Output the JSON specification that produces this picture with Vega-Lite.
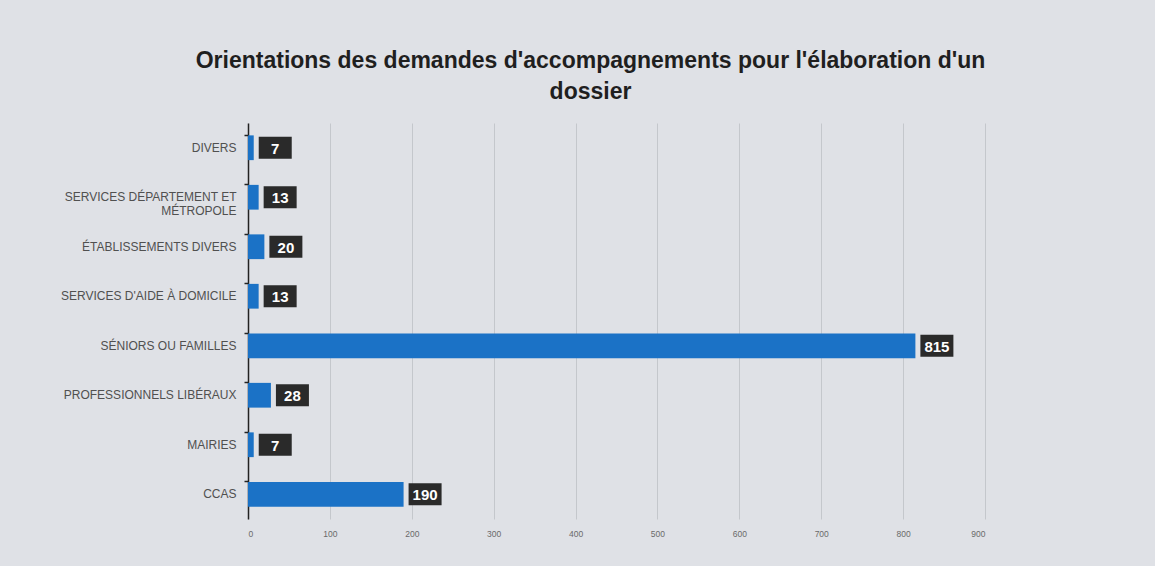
{
  "$schema": "https://vega.github.io/schema/vega-lite/v6.json",
  "width": 737,
  "height": 396,
  "autosize": {"type": "none"},
  "padding": {"left": 248, "top": 123, "right": 170, "bottom": 47},
  "background": "#dfe1e6",
  "title": {
    "text": ["Orientations des demandes d'accompagnements pour l'élaboration d'un", "dossier"],
    "font": "Liberation Sans",
    "fontSize": 23,
    "fontWeight": "bold",
    "color": "#1f1f1f",
    "lineHeight": 31,
    "anchor": "middle",
    "dx": -26,
    "offset": 19
  },
  "data": {
    "values": [
      {"categorie": "DIVERS", "valeur": 7},
      {"categorie": "SERVICES DÉPARTEMENT ET MÉTROPOLE", "valeur": 13},
      {"categorie": "ÉTABLISSEMENTS DIVERS", "valeur": 20},
      {"categorie": "SERVICES D'AIDE À DOMICILE", "valeur": 13},
      {"categorie": "SÉNIORS OU FAMILLES", "valeur": 815},
      {"categorie": "PROFESSIONNELS LIBÉRAUX", "valeur": 28},
      {"categorie": "MAIRIES", "valeur": 7},
      {"categorie": "CCAS", "valeur": 190}
    ]
  },
  "encoding": {
    "y": {
      "field": "categorie",
      "type": "nominal",
      "sort": null,
      "scale": {"paddingInner": 0.5, "paddingOuter": 0.25},
      "axis": {
        "title": null,
        "bandPosition": 0,
        "domainColor": "#222222",
        "domainWidth": 1.5,
        "tickColor": "#222222",
        "tickWidth": 1.5,
        "tickSize": 4,
        "labelPadding": 8,
        "labelFont": "Liberation Sans",
        "labelFontSize": 12,
        "labelColor": "#505050",
        "labelLineHeight": 14,
        "labelLimit": 230,
        "labelExpr": "datum.label == 'SERVICES DÉPARTEMENT ET MÉTROPOLE' ? ['SERVICES DÉPARTEMENT ET', 'MÉTROPOLE'] : datum.label"
      }
    },
    "x": {
      "field": "valeur",
      "type": "quantitative",
      "scale": {"domain": [0, 900], "nice": false},
      "axis": {
        "title": null,
        "values": [0, 100, 200, 300, 400, 500, 600, 700, 800, 900],
        "domain": false,
        "ticks": false,
        "grid": true,
        "gridColor": "#c4c7cc",
        "gridWidth": 1,
        "labelFont": "Liberation Sans",
        "labelFontSize": 8.5,
        "labelColor": "#6a6a6a",
        "labelPadding": 10
      }
    }
  },
  "layer": [
    {
      "mark": {"type": "bar", "color": "#1b72c6"}
    },
    {
      "mark": {
        "type": "point",
        "shape": "M-1,-0.66H1V0.66H-1Z",
        "size": 1089,
        "filled": true,
        "opacity": 1,
        "color": "#2a2a2a",
        "xOffset": 21.5
      }
    },
    {
      "mark": {
        "type": "text",
        "font": "Liberation Sans",
        "fontSize": 15,
        "fontWeight": "bold",
        "color": "#ffffff",
        "align": "center",
        "baseline": "middle",
        "xOffset": 21.5,
        "yOffset": 1
      },
      "encoding": {"text": {"field": "valeur", "type": "quantitative"}}
    }
  ],
  "config": {"view": {"stroke": null}}
}
